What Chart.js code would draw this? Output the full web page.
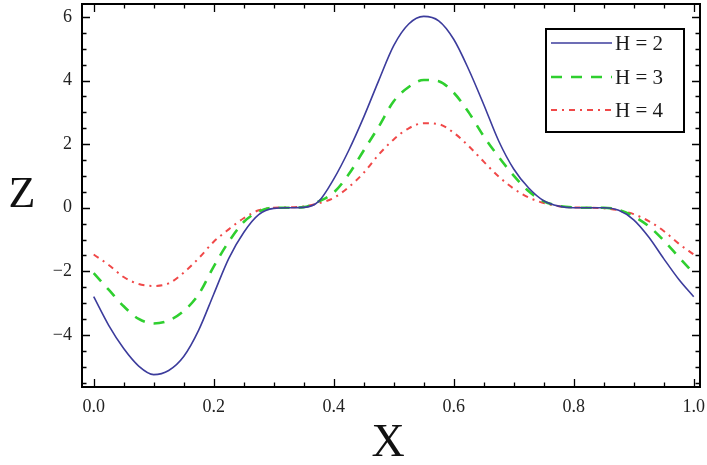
<!DOCTYPE html>
<html>
<head>
<meta charset="utf-8">
<script src="https://cdn.jsdelivr.net/npm/chart.js@4.4.1/dist/chart.umd.min.js"></script>
<style>
  html, body { margin: 0; padding: 0; background: #fff; }
  #wrap { width: 707px; height: 465px; }
</style>
</head>
<body>
<div id="wrap"><canvas id="zChart" width="707" height="465"></canvas></div>
<script>
// values
const xValues = [
  0, 0.025, 0.05, 0.075, 0.1, 0.125, 0.15, 0.175, 0.2, 0.225,
  0.25, 0.275, 0.3, 0.325, 0.35, 0.375, 0.4, 0.425, 0.45, 0.475,
  0.5, 0.525, 0.55, 0.575, 0.6, 0.625, 0.65, 0.675, 0.7, 0.725,
  0.75, 0.775, 0.8, 0.825, 0.85, 0.875, 0.9, 0.925, 0.95, 0.975, 1
];
const zH2 = [
  -2.8, -3.7, -4.43, -4.98, -5.25, -5.12, -4.68, -3.85, -2.72, -1.6,
  -0.78, -0.22, -0.02, 0, 0.01, 0.2, 0.9, 1.8, 2.85, 4.0,
  5.1, 5.78, 6.02, 5.88, 5.3, 4.35, 3.25, 2.1, 1.22, 0.62,
  0.22, 0.05, 0, 0, 0, -0.08, -0.38, -0.92, -1.6, -2.25, -2.8
];
const zH3 = [
  -2.06, -2.58, -3.1, -3.5, -3.64, -3.55, -3.25, -2.72, -1.85, -1.07,
  -0.45, -0.12, 0, 0, 0.02, 0.2, 0.48, 1.05, 1.8, 2.55,
  3.35, 3.8, 4.02, 3.98, 3.62, 3.0, 2.25, 1.6, 1.01, 0.52,
  0.2, 0.06, 0.01, 0, 0, -0.07, -0.27, -0.58, -1.03, -1.55, -2.06
];
const zH4 = [
  -1.47, -1.8, -2.18, -2.4, -2.46, -2.38, -2.04, -1.59, -1.07, -0.68,
  -0.33, -0.08, 0, 0.01, 0.04, 0.14, 0.31, 0.65, 1.1, 1.67,
  2.15, 2.5, 2.66, 2.63, 2.36, 1.94, 1.45, 0.98, 0.6, 0.32,
  0.15, 0.05, 0.01, 0, -0.02, -0.08, -0.2, -0.42, -0.73, -1.13, -1.47
];
const seriesLabels = ["H = 2", "H = 3", "H = 4"];
const xTickValues = [0, 0.2, 0.4, 0.6, 0.8, 1.0];
const yTickValues = [-4, -2, 0, 2, 4, 6];

const serif = "'Liberation Serif', 'Times New Roman', serif";

function toPoints(ys) {
  return xValues.map((x, i) => ({ x: x, y: ys[i] }));
}

// frame with inward ticks, axis letters, and the boxed legend
const framePlugin = {
  id: "frame",
  afterDraw(chart) {
    const ctx = chart.ctx;
    const a = chart.chartArea;
    const xs = chart.scales.x;
    const ys = chart.scales.y;
    ctx.save();
    ctx.strokeStyle = "#000";
    ctx.lineWidth = 1.3;

    // x ticks (bottom + top)
    for (let i = 0; i <= 20; i++) {
      const v = i * 0.05;
      const px = Math.round(xs.getPixelForValue(v)) + 0.5;
      const len = i % 4 === 0 ? 8 : 4.5;
      ctx.beginPath();
      ctx.moveTo(px, a.bottom);
      ctx.lineTo(px, a.bottom - len);
      ctx.moveTo(px, a.top);
      ctx.lineTo(px, a.top + len);
      ctx.stroke();
    }
    // y ticks (left + right)
    for (let i = -11; i <= 12; i++) {
      const v = i * 0.5;
      const py = Math.round(ys.getPixelForValue(v)) + 0.5;
      const len = i % 4 === 0 ? 8 : 4.5;
      ctx.beginPath();
      ctx.moveTo(a.left, py);
      ctx.lineTo(a.left + len, py);
      ctx.moveTo(a.right, py);
      ctx.lineTo(a.right - len, py);
      ctx.stroke();
    }
    ctx.lineWidth = 2;
    ctx.strokeRect(a.left, a.top, a.right - a.left, a.bottom - a.top);

    // axis letters
    ctx.fillStyle = "#111";
    ctx.textAlign = "center";
    ctx.textBaseline = "middle";
    ctx.font = "44px " + serif;
    ctx.fillText("Z", 22, 195);
    ctx.font = "46px " + serif;
    ctx.fillText("X", 388, 444);

    // legend
    const bx = 546, by = 29, bw = 138, bh = 103;
    ctx.fillStyle = "#fff";
    ctx.fillRect(bx, by, bw, bh);
    ctx.lineWidth = 2;
    ctx.strokeStyle = "#000";
    ctx.strokeRect(bx, by, bw, bh);
    const rows = [43, 77, 110];
    chart.data.datasets.forEach((ds, i) => {
      const y = rows[i];
      ctx.beginPath();
      ctx.setLineDash(ds.borderDash || []);
      ctx.strokeStyle = ds.borderColor;
      ctx.lineWidth = ds.borderWidth;
      ctx.moveTo(551, y);
      ctx.lineTo(612, y);
      ctx.stroke();
      ctx.setLineDash([]);
      ctx.fillStyle = "#1a1a1a";
      ctx.textAlign = "left";
      ctx.font = "21px " + serif;
      ctx.fillText(ds.label, 615, y + 1);
    });
    ctx.restore();
  },
};

const ctx = document.getElementById("zChart").getContext("2d");
new Chart(ctx, {
  type: "line",
  data: {
    datasets: [
      {
        label: seriesLabels[0],
        data: toPoints(zH2),
        borderColor: "#3c3c9c",
        borderWidth: 1.6,
        pointRadius: 0,
        cubicInterpolationMode: "monotone",
      },
      {
        label: seriesLabels[1],
        data: toPoints(zH3),
        borderColor: "#2fcf2f",
        borderWidth: 2.6,
        borderDash: [11, 9],
        pointRadius: 0,
        cubicInterpolationMode: "monotone",
      },
      {
        label: seriesLabels[2],
        data: toPoints(zH4),
        borderColor: "#f04848",
        borderWidth: 2,
        borderDash: [6, 5, 2, 5],
        pointRadius: 0,
        cubicInterpolationMode: "monotone",
      },
    ],
  },
  options: {
    responsive: false,
    animation: false,
    layout: { padding: { top: 4, right: 7, left: 0, bottom: 0 } },
    plugins: {
      legend: { display: false },
      tooltip: { enabled: false },
    },
    scales: {
      x: {
        type: "linear",
        min: -0.0195,
        max: 1.0105,
        grid: { display: false, drawTicks: false },
        border: { display: false },
        afterFit: (s) => {
          s.height = 78;
          s.paddingLeft = 0;
          s.paddingRight = 0;
        },
        afterBuildTicks: (s) => { s.ticks = xTickValues.map((v) => ({ value: v })); },
        ticks: {
          padding: 9,
          color: "#222",
          font: { family: serif, size: 18 },
          maxRotation: 0,
          callback: (v) => v.toFixed(1),
        },
      },
      y: {
        type: "linear",
        min: -5.64,
        max: 6.41,
        grid: { display: false, drawTicks: false },
        border: { display: false },
        afterFit: (s) => {
          s.width = 82;
          s.paddingTop = 0;
          s.paddingBottom = 0;
        },
        afterBuildTicks: (s) => { s.ticks = yTickValues.map((v) => ({ value: v })); },
        ticks: {
          padding: 10,
          color: "#222",
          font: { family: serif, size: 18 },
          callback: (v) => (v < 0 ? "\u2212" + Math.abs(v) : String(v)),
        },
      },
    },
  },
  plugins: [framePlugin],
});
</script>
</body>
</html>
